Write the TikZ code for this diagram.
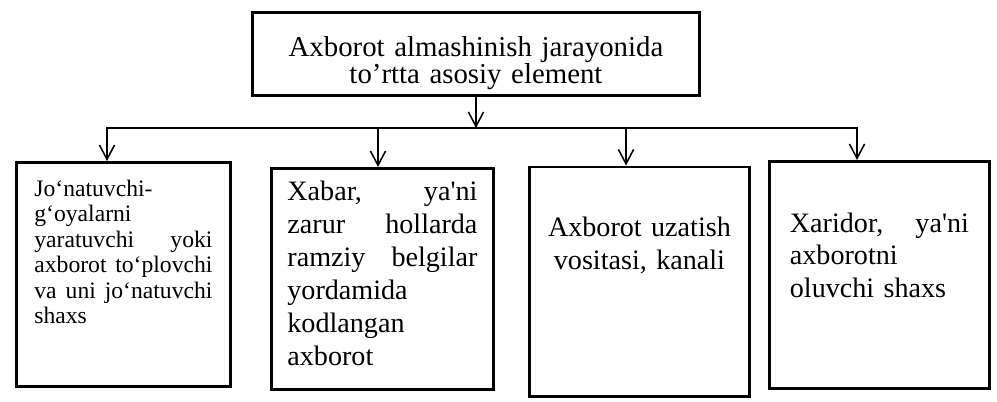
\documentclass[tikz,border=0pt]{standalone}
\usepackage{fontspec}
\setmainfont{Liberation Serif}[Ligatures=TeXOff]
\usetikzlibrary{arrows.meta}

\tikzset{
  elem/.style={draw, line width=2pt, anchor=north west, inner ysep=0pt},
  link/.style={line width=1.1pt, line cap=rect},
  arr/.style={line width=1.1pt, -{Straight Barb[length=3.6mm,width=3.8mm,line width=1.1pt]}}
}

\begin{document}
\begin{tikzpicture}[x=0.025cm,y=-0.025cm]
\useasboundingbox (0,0) rectangle (997,401);

% Top box
\node[elem, text width=10.575cm, inner xsep=0.3cm, text height=1.1cm, text depth=0.975cm,
  align=center, font=\fontsize{20.5}{19.5}\selectfont] (top) at (251,11)
  {Axborot almashinish jarayonida\\to’rtta asosiy element};

% Four elements
\node[elem, text width=4.45cm, inner xsep=0.45cm, text height=0.84cm, text depth=4.76cm,
  align=left, font=\fontsize{16.8}{18.2}\selectfont] (e1) at (15,161)
  {Jo‘natuvchi-\\g‘oyalarni\\yaratuvchi\hfill yoki\\axborot\hfill to‘plovchi\\va\hfill uni\hfill jo‘natuvchi\\shaxs};

\node[elem, text width=4.75cm, inner xsep=0.4cm, text height=0.8cm, text depth=4.725cm,
  align=left, font=\fontsize{20}{23.5}\selectfont] (e2) at (270,167)
  {Xabar,\hfill ya'ni\\zarur\hfill hollarda\\ramziy\hfill belgilar\\yordamida\\kodlangan\\axborot};

\node[elem, text width=4.6cm, inner xsep=0.45cm, text height=1.74cm, text depth=4.0cm,
  align=center, font=\fontsize{20}{23.5}\selectfont] (e3) at (528,165.5)
  {Axborot uzatish\\vositasi, kanali};

\node[elem, text width=4.475cm, inner xsep=0.5125cm, text height=1.775cm, text depth=3.9cm,
  align=left, font=\fontsize{20}{23}\selectfont] (e4) at (768,160)
  {Xaridor,\hfill ya'ni\\axborotni\\oluvchi shaxs};

% Bus line and arrows
\coordinate (b1) at (107,128);
\coordinate (b2) at (378,128);
\coordinate (b3) at (626,128);
\coordinate (b4) at (857,128);

\draw[link] (b1) -- (b4);
\draw[arr] (top.south) -- (top.south |- b1);
\draw[arr] (b1) -- (b1 |- e1.north);
\draw[arr] (b2) -- (b2 |- e2.north);
\draw[arr] (b3) -- (b3 |- e3.north);
\draw[arr] (b4) -- (b4 |- e4.north);

\end{tikzpicture}
\end{document}
